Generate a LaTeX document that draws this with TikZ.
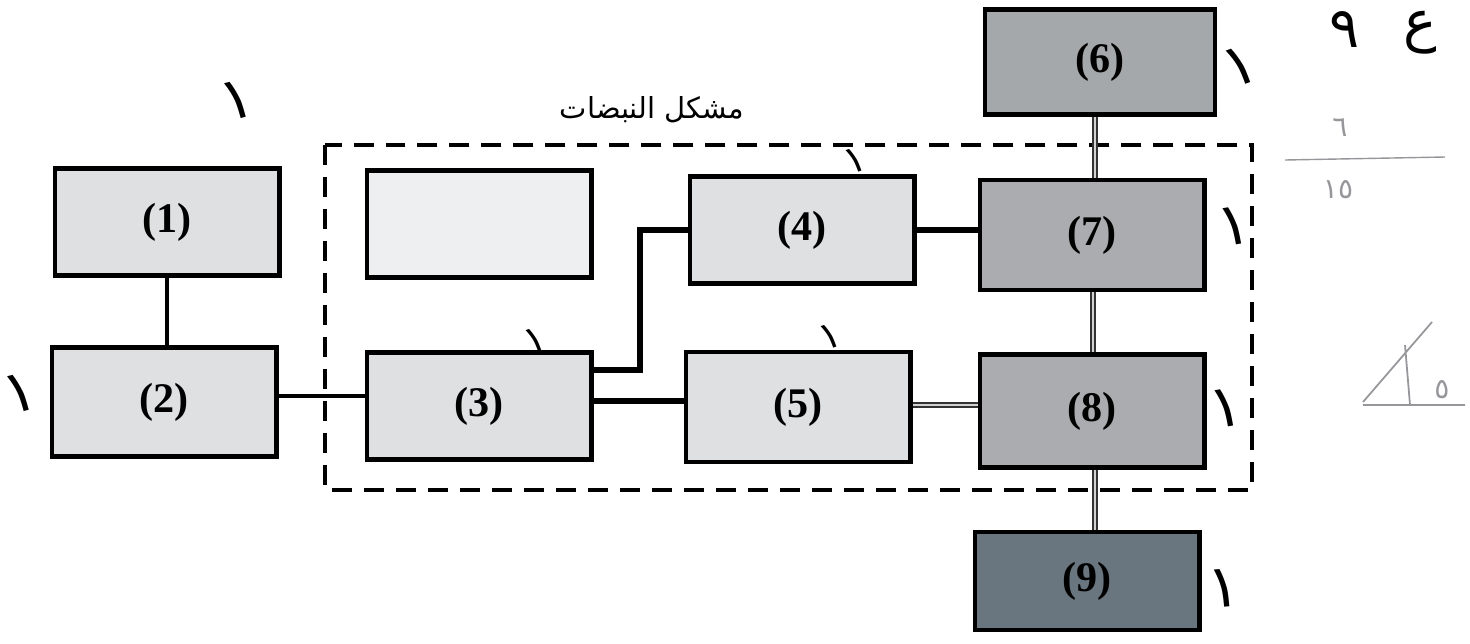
\documentclass[tikz,border=0pt]{standalone}
\usepackage{fontspec}
\TeXXeTstate=1
\newfontfamily\arabicfont[Script=Arabic]{DejaVu Sans}
\newfontfamily\boxfont{Liberation Serif}
\definecolor{lightfill}{RGB}{222,224,226}
\definecolor{blankfill}{RGB}{238,239,240}
\definecolor{midfill}{RGB}{170,172,175}
\definecolor{sixfill}{RGB}{165,168,170}
\definecolor{ninefill}{RGB}{105,118,128}
\definecolor{faint}{RGB}{150,150,155}
\begin{document}
\begin{tikzpicture}[x=0.02cm,y=-0.02cm,
  blk/.style={draw=black,line width=2.3pt,minimum width=4.5cm,minimum height=2.14cm,
    inner sep=0pt,font=\boxfont\fontsize{24}{28}\selectfont\bfseries},
  wire/.style={line width=2.2pt},
  thickwire/.style={line width=3.4pt},
  dbl/.style={draw=black!80,line width=1pt,double=gray!35,double distance=1.5pt},
  hmark/.style={font=\arabicfont\fontsize{34}{36}\selectfont,inner sep=0pt},
  smallhmark/.style={font=\arabicfont\fontsize{22}{24}\selectfont,inner sep=0pt},
  fainthmark/.style={font=\arabicfont\fontsize{16}{18}\selectfont,inner sep=0pt,text=faint}]
\useasboundingbox (0,0) rectangle (1470,643);

% dashed frame
\draw[line width=2pt,dash pattern=on 0.4cm off 0.24cm] (325,145) rectangle (1252,490);
\node[font=\arabicfont\fontsize{16.5}{20}\selectfont] (lbl) at (652,110) {\beginR مشكل النبضات\endR};

% boxes
\node[blk,fill=lightfill] (b1) at (167,222) {(1)};
\node[blk,fill=lightfill,minimum height=2.18cm] (b2) at (164,402) {(2)};
\node[blk,fill=lightfill] (b3) at (479,406) {(3)};
\node[blk,fill=blankfill] (b0) at (479,224) {};
\node[blk,fill=lightfill] (b4) at (802,230) {(4)};
\node[blk,fill=lightfill,minimum height=2.2cm] (b5) at (798,407) {(5)};
\node[blk,fill=sixfill,minimum width=4.6cm,minimum height=2.1cm] (b6) at (1100,62) {(6)};
\node[blk,fill=midfill,minimum height=2.2cm] (b7) at (1092,235) {(7)};
\node[blk,fill=midfill,minimum height=2.26cm] (b8) at (1092,411) {(8)};
\node[blk,fill=ninefill,minimum height=1.96cm] (b9) at (1087,581) {(9)};

% connectors
\draw[wire] (b1.south) -- (b1.south |- b2.north);
\draw[wire] (b2.east |- 0,396) -- (b3.west |- 0,396);
\coordinate (j34) at (640,370);
\draw[thickwire] (b3.east |- j34) -- (j34) |- (b4.west);
\draw[thickwire] (b3.east |- 0,401) -- (b5.west |- 0,401);
\draw[thickwire] (b4.east) -- (b4.east -| b7.west);
\draw[dbl] (b8.west |- 0,405) -- (b5.east |- 0,405);
\draw[dbl] (b7.north -| 1095,0) -- (b6.south -| 1095,0);
\draw[dbl] (b7.south -| 1093,0) -- (b8.north -| 1093,0);
\draw[dbl] (b8.south -| 1095,0) -- (b9.north -| 1095,0);

% handwritten marks
\node[hmark,rotate=15] (m1) at (237,100) {١};
\node[hmark,rotate=15] (m2) at (20,393) {١};
\node[smallhmark,rotate=20] (m3) at (535,340) {١};
\node[smallhmark,rotate=20] (m4) at (855,160) {١};
\node[smallhmark,rotate=20] (m5) at (830,336) {١};
\node[hmark,rotate=20] (m6) at (1240,66) {١};
\node[hmark,rotate=10] (m7) at (1234,226) {١};
\node[hmark,rotate=10] (m8) at (1226,408) {١};
\node[hmark,rotate=5] (m9) at (1224,588) {١};
\node[font=\arabicfont\fontsize{32}{34}\selectfont,inner sep=0pt] (g1) at (1345,30) {٩};
\node[font=\arabicfont\fontsize{32}{34}\selectfont,inner sep=0pt] (g2) at (1420,33) {ع};

% faint marks
\node[fainthmark] (f1) at (1340,128) {٦};
\node[fainthmark] (f2) at (1338,190) {١٥};
\draw[faint,line width=0.8pt] (1285,160) -- (1445,157);
\draw[faint,line width=1pt] (1363,402) -- (1432,322) (1405,345) -- (1410,405) (1363,405) -- (1465,405);
\node[fainthmark] (f3) at (1442,390) {٥};
\end{tikzpicture}
\end{document}
